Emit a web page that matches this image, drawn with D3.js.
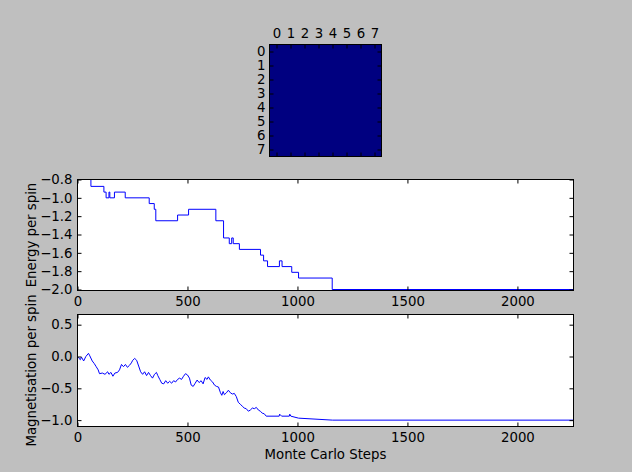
<!DOCTYPE html>
<html>
<head>
<meta charset="utf-8">
<script src="https://cdn.jsdelivr.net/npm/d3@7/dist/d3.min.js"></script>
<style>
  body { margin: 0; background: #bfbfbf; }
  text { font-family: "DejaVu Sans", sans-serif; font-size: 13.3px; fill: #000; }
</style>
</head>
<body>
<div id="chart"></div>
<script>
// --- Data ---
const latticeSize = 8;
const spinGrid = [
    [-1, -1, -1, -1, -1, -1, -1, -1],
    [-1, -1, -1, -1, -1, -1, -1, -1],
    [-1, -1, -1, -1, -1, -1, -1, -1],
    [-1, -1, -1, -1, -1, -1, -1, -1],
    [-1, -1, -1, -1, -1, -1, -1, -1],
    [-1, -1, -1, -1, -1, -1, -1, -1],
    [-1, -1, -1, -1, -1, -1, -1, -1],
    [-1, -1, -1, -1, -1, -1, -1, -1]
];

const energySteps = [0, 61, 120, 130, 143, 147, 168, 217, 326, 349, 356, 455, 505, 629, 664, 690, 701, 708,
    736, 832, 846, 864, 918, 930, 974, 1005, 1158, 2255];
const energyValues = [-0.75, -0.875, -0.9375, -1.0, -0.9375, -1.0, -0.9375, -1.0, -1.0625, -1.125, -1.25, -1.1875,
    -1.125, -1.25, -1.4375, -1.5, -1.4375, -1.5, -1.5625, -1.625, -1.6875, -1.75, -1.6875, -1.75, -1.8125, -1.875,
    -2.0, -2.0];

const magSteps = [0, 7, 13, 18, 28, 38, 50, 56, 67, 76, 85, 94, 100, 113, 125, 137, 143, 152, 161, 170, 182, 191,
    200, 209, 218, 227, 236, 245, 251, 260, 269, 278, 287, 296, 305, 314, 323, 332, 341, 350, 359, 365, 374, 383,
    392, 401, 410, 419, 428, 437, 446, 455, 464, 473, 482, 491, 500, 509, 517, 526, 535, 544, 553, 562, 571, 580,
    589, 595, 604, 614, 623, 632, 641, 650, 656, 662, 668, 677, 686, 695, 704, 713, 722, 731, 740, 749, 758, 767,
    777, 786, 795, 804, 813, 822, 831, 840, 849, 858, 917, 919, 928, 963, 965, 970, 1005, 1160, 2255];
const magValues = [0.0, -0.03, -0.05, -0.01, -0.07, 0.0, 0.05, 0.01, -0.07, -0.11, -0.16, -0.21, -0.27, -0.26,
    -0.28, -0.24, -0.28, -0.25, -0.31, -0.26, -0.25, -0.21, -0.125, -0.16, -0.125, -0.17, -0.14, -0.10, -0.06,
    -0.03, -0.06, -0.15, -0.24, -0.28, -0.24, -0.30, -0.25, -0.30, -0.34, -0.28, -0.25, -0.30, -0.36, -0.42,
    -0.43, -0.38, -0.42, -0.39, -0.42, -0.38, -0.40, -0.36, -0.34, -0.36, -0.31, -0.27, -0.29, -0.34, -0.45,
    -0.47, -0.42, -0.37, -0.41, -0.38, -0.43, -0.33, -0.36, -0.32, -0.37, -0.40, -0.45, -0.47, -0.48, -0.57,
    -0.61, -0.55, -0.60, -0.57, -0.53, -0.57, -0.59, -0.58, -0.63, -0.72, -0.75, -0.78, -0.81, -0.82, -0.86,
    -0.84, -0.81, -0.82, -0.80, -0.84, -0.86, -0.89, -0.90, -0.9375, -0.9375, -0.90625, -0.9375, -0.9375,
    -0.90625, -0.9375, -0.96875, -1.0, -1.0];

const stepTicks = [0, 500, 1000, 1500, 2000];
const energyTicks = [-0.8, -1.0, -1.2, -1.4, -1.6, -1.8, -2.0];
const magTicks = [0.5, 0.0, -0.5, -1.0];

// --- Layout ---
const W = 632, H = 472;
const plotLeft = 77.5, plotRight = 573.5;
const energyBox = { top: 179.5, bottom: 290.5, dataBottom: 289.5 };
const magBox = { top: 314.5, bottom: 426.5, dataBottom: 426.5 };
const gridBox = { left: 269.5, top: 44.5, size: 112 };

const svg = d3.select("#chart").append("svg")
    .attr("width", W)
    .attr("height", H);

const defs = svg.append("defs");

// shared x scale (Monte Carlo steps)
const x = d3.scaleLinear().domain([0, 2255]).range([plotLeft, plotRight]);

function drawPanel(box, yDomain, yTicks, steps, values, curve, clipId, label, showXLabel) {
    const y = d3.scaleLinear().domain(yDomain).range([box.dataBottom, box.top]);

    svg.append("rect")
        .attr("x", plotLeft).attr("y", box.top)
        .attr("width", plotRight - plotLeft).attr("height", box.bottom - box.top)
        .attr("fill", "#fff");

    defs.append("clipPath").attr("id", clipId)
        .append("rect")
        .attr("x", plotLeft).attr("y", box.top)
        .attr("width", plotRight - plotLeft).attr("height", box.bottom - box.top);

    const pts = steps.map((s, i) => [s, values[i]]);
    const line = d3.line()
        .x(d => x(d[0]))
        .y(d => y(d[1]))
        .curve(curve);

    svg.append("path")
        .datum(pts)
        .attr("clip-path", `url(#${clipId})`)
        .attr("fill", "none")
        .attr("stroke", "#0000ff")
        .attr("stroke-width", 1)
        .attr("stroke-linejoin", "round")
        .attr("d", line);

    // ticks: inward on all four sides, labels bottom/left only
    const fmt = d3.format(".1f");
    const gb = svg.append("g").attr("transform", `translate(0,${box.bottom})`)
        .call(d3.axisBottom(x).tickValues(stepTicks).tickSizeInner(-4).tickSizeOuter(0).tickPadding(6)
            .tickFormat(d3.format("d")));
    const gt = svg.append("g").attr("transform", `translate(0,${box.top})`)
        .call(d3.axisTop(x).tickValues(stepTicks).tickSizeInner(-4).tickSizeOuter(0).tickFormat(""));
    const gl = svg.append("g").attr("transform", `translate(${plotLeft},0)`)
        .call(d3.axisLeft(y).tickValues(yTicks).tickSizeInner(-4).tickSizeOuter(0).tickPadding(5).tickFormat(fmt));
    const gr = svg.append("g").attr("transform", `translate(${plotRight},0)`)
        .call(d3.axisRight(y).tickValues(yTicks).tickSizeInner(-4).tickSizeOuter(0).tickFormat(""));
    [gb, gt, gl, gr].forEach(g => {
        g.select(".domain").remove();
        g.selectAll("line").attr("stroke", "#000");
        g.attr("font-family", null).attr("font-size", null);
    });

    // frame
    svg.append("rect")
        .attr("x", plotLeft).attr("y", box.top)
        .attr("width", plotRight - plotLeft).attr("height", box.bottom - box.top)
        .attr("fill", "none").attr("stroke", "#000").attr("stroke-width", 1);

    svg.append("text")
        .attr("transform", `translate(36,${(box.top + box.bottom) / 2}) rotate(-90)`)
        .attr("text-anchor", "middle")
        .text(label);

    if (showXLabel) {
        svg.append("text")
            .attr("x", (plotLeft + plotRight) / 2)
            .attr("y", box.bottom + 32)
            .attr("text-anchor", "middle")
            .text("Monte Carlo Steps");
    }
}

// --- Lattice image ---
const cellIdx = d3.range(latticeSize);
const gx = d3.scaleBand().domain(cellIdx).range([gridBox.left, gridBox.left + gridBox.size]);
const gy = d3.scaleBand().domain(cellIdx).range([gridBox.top, gridBox.top + gridBox.size]);
const spinColor = d3.scaleLinear().domain([-1, 1]).range(["#000080", "#800000"]);

const cells = [];
spinGrid.forEach((row, r) => row.forEach((v, c) => cells.push({ r, c, v })));

svg.append("g").selectAll("rect")
    .data(cells)
    .join("rect")
    .attr("x", d => gx(d.c))
    .attr("y", d => gy(d.r))
    .attr("width", gx.bandwidth() + 0.5)
    .attr("height", gy.bandwidth() + 0.5)
    .attr("fill", d => spinColor(d.v))
    .attr("shape-rendering", "crispEdges");

const gxc = d3.scaleLinear().domain([-0.5, latticeSize - 0.5]).range([gridBox.left, gridBox.left + gridBox.size]);
const gyc = d3.scaleLinear().domain([-0.5, latticeSize - 0.5]).range([gridBox.top, gridBox.top + gridBox.size]);
const gridAxes = [
    svg.append("g").attr("transform", `translate(0,${gridBox.top})`)
        .call(d3.axisTop(gxc).tickValues(cellIdx).tickSizeInner(-4).tickSizeOuter(0).tickPadding(7).tickFormat(d3.format("d"))),
    svg.append("g").attr("transform", `translate(0,${gridBox.top + gridBox.size})`)
        .call(d3.axisBottom(gxc).tickValues(cellIdx).tickSizeInner(-4).tickSizeOuter(0).tickFormat("")),
    svg.append("g").attr("transform", `translate(${gridBox.left},0)`)
        .call(d3.axisLeft(gyc).tickValues(cellIdx).tickSizeInner(-4).tickSizeOuter(0).tickPadding(4).tickFormat(d3.format("d"))),
    svg.append("g").attr("transform", `translate(${gridBox.left + gridBox.size},0)`)
        .call(d3.axisRight(gyc).tickValues(cellIdx).tickSizeInner(-4).tickSizeOuter(0).tickFormat(""))
];
gridAxes.forEach(g => {
    g.select(".domain").remove();
    g.selectAll("line").attr("stroke", "#000");
    g.attr("font-family", null).attr("font-size", null);
});
svg.append("rect")
    .attr("x", gridBox.left).attr("y", gridBox.top)
    .attr("width", gridBox.size).attr("height", gridBox.size)
    .attr("fill", "none").attr("stroke", "#000");

// --- Energy and magnetisation panels ---
drawPanel(energyBox, [-2.0, -0.8], energyTicks, energySteps, energyValues, d3.curveStepAfter,
    "clip-energy", "Energy per spin", false);
drawPanel(magBox, [-1.1, 0.66], magTicks, magSteps, magValues, d3.curveLinear,
    "clip-mag", "Magnetisation per spin", true);
</script>
</body>
</html>
